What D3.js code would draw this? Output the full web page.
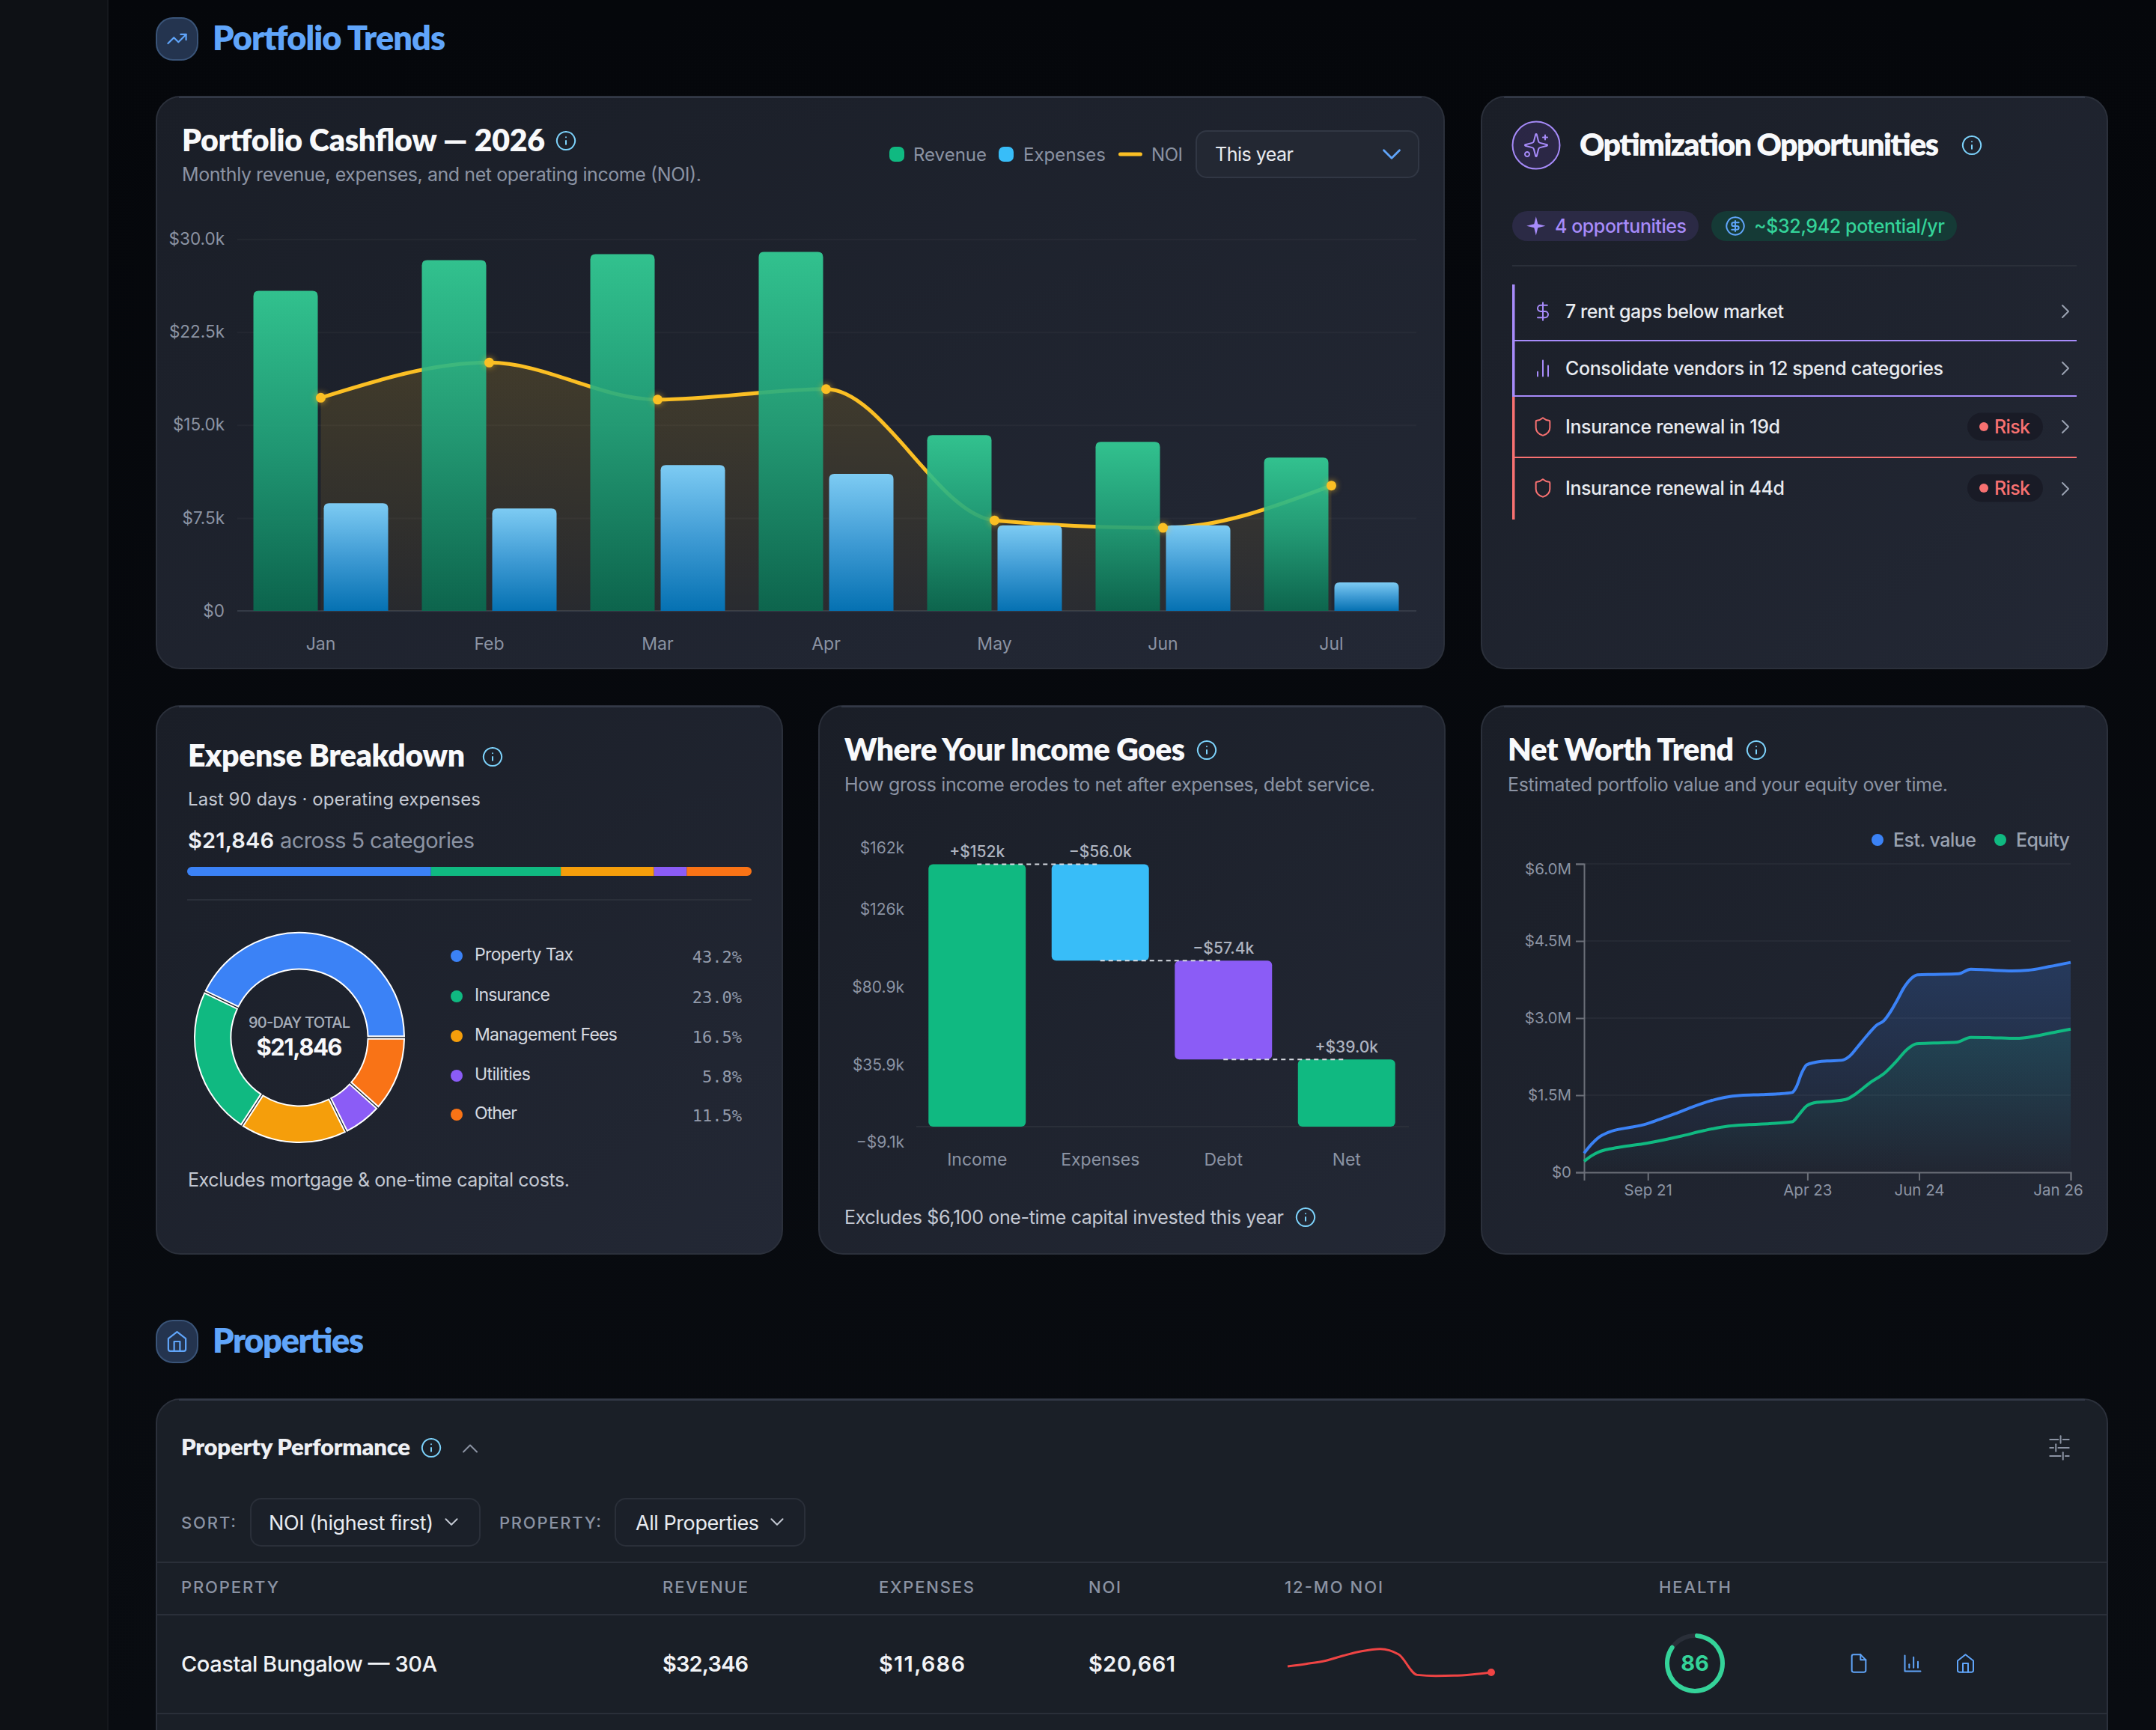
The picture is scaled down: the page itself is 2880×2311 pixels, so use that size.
<!DOCTYPE html>
<html>
<head>
<meta charset="utf-8">
<title>Portfolio dashboard</title>
<script src="https://cdn.jsdelivr.net/npm/d3@7"></script>
<style>
  html, body { margin: 0; padding: 0; background: #05070b; overflow: hidden; }
  svg { display: block; }
  text { font-family: Inter, sans-serif; }
  .head { font-family: Lato, sans-serif; font-weight: 800; }
</style>
</head>
<body>
<div id="page"></div>
<script>
// Cashflow chart
const months = ['Jan', 'Feb', 'Mar', 'Apr', 'May', 'Jun', 'Jul'];
const revenue = [25830, 28310, 28790, 28970, 14180, 13640, 12370];
const expenses = [8690, 8270, 11770, 11050, 6910, 6910, 2290];
const noi = [17200, 20040, 17050, 17900, 7300, 6700, 10110];
const cashTicks = [0, 7500, 15000, 22500, 30000];
const cashTickLabels = ['$0', '$7.5k', '$15.0k', '$22.5k', '$30.0k'];

// Expense breakdown
const expenseNames = ['Property Tax', 'Insurance', 'Management Fees', 'Utilities', 'Other'];
const expenseShares = [43.2, 23.0, 16.5, 5.8, 11.5];
const expenseColors = ['#3b82f6', '#10b981', '#f59e0b', '#8b5cf6', '#f97316'];

// Waterfall
const flowNames = ['Income', 'Expenses', 'Debt', 'Net'];
const flowStart = [0, 152.4, 96.4, 0];
const flowEnd = [152.4, 96.4, 39.0, 39.0];
const flowLabels = ['+$152k', '\u2212$56.0k', '\u2212$57.4k', '+$39.0k'];
const flowColors = ['#10b981', '#38bdf8', '#8b5cf6', '#10b981'];
const flowTicks = [-9.1, 35.9, 80.9, 126, 162];
const flowTickLabels = ['\u2212$9.1k', '$35.9k', '$80.9k', '$126k', '$162k'];

// Net worth, sampled on the chart's irregular date index
const estIndex = [0, .87, 1.9, 2.93, 4.22, 5.76, 7.82, 9.37, 11.43, 13.48, 15.8, 17.6, 19.66, 22.23, 24.29, 26.09, 26.6, 27.28, 27.9, 28.92, 30.47, 32.27, 33.3, 34.33, 35.62, 36.64, 37.57, 38.45, 39.22, 40.25, 41.02, 41.8, 43.85, 46.94, 48.48, 50.54, 53.63, 55.69, 58.26, 61];
const estValue = [.37, .536, .687, .77, .832, .873, .942, 1.024, 1.141, 1.265, 1.388, 1.457, 1.498, 1.512, 1.526, 1.553, 1.656, 1.931, 2.089, 2.137, 2.165, 2.179, 2.261, 2.447, 2.687, 2.859, 2.948, 3.134, 3.34, 3.629, 3.773, 3.842, 3.849, 3.863, 3.952, 3.938, 3.918, 3.931, 4.0, 4.083];
const equityIndex = [0, .87, 1.9, 3.19, 4.73, 7.82, 9.88, 12.46, 15.03, 18.12, 20.69, 23.26, 26.09, 26.87, 27.9, 29.18, 30.98, 32.78, 34.07, 35.87, 37.67, 39.22, 40.5, 41.69, 43.85, 46.68, 48.48, 51.05, 54.14, 56.72, 59.29, 61];
const equityValue = [.213, .316, .399, .454, .495, .564, .625, .715, .811, .9, .928, .948, .983, 1.107, 1.292, 1.361, 1.381, 1.416, 1.526, 1.746, 1.931, 2.172, 2.392, 2.502, 2.516, 2.529, 2.625, 2.619, 2.605, 2.653, 2.735, 2.784];
const worthTicks = [0, 1.5, 3, 4.5, 6];
const worthTickLabels = ['$0', '$1.5M', '$3.0M', '$4.5M', '$6.0M'];
const dateTickIndex = [8, 28, 42, 61];
const dateTickLabels = ['Sep 21', 'Apr 23', 'Jun 24', 'Jan 26'];

// Property row
const sparkNoi = [4.7, 5.7, 6.9, 9.0, 10.8, 11.7, 9.5, 1.3, 0.9, 1.0, 1.5, 2.3];
const healthScore = 86;

const C = { muted: '#8b93a3', soft: '#c3c8d2', white: '#f8f9fb', info: '#7dd3fc', blue: '#60a5fa', violet: '#a78bfa', red: '#f87171', mint: '#34d399' };

const ICONS = {
  trend: ['M22 7 13.5 15.5 8.5 10.5 2 17', 'M16 7h6v6'],
  home: ['m3 9 9-7 9 7v11a2 2 0 0 1-2 2H5a2 2 0 0 1-2-2z', 'M9 22V12h6v10'],
  sparkles: ['M9.937 15.5A2 2 0 0 0 8.5 14.063l-6.135-1.582a.5.5 0 0 1 0-.962L8.5 9.936A2 2 0 0 0 9.937 8.5l1.582-6.135a.5.5 0 0 1 .963 0L14.063 8.5A2 2 0 0 0 15.5 9.937l6.135 1.581a.5.5 0 0 1 0 .964L15.5 14.063a2 2 0 0 0-1.437 1.437l-1.582 6.135a.5.5 0 0 1-.963 0z', 'M20 3v4', 'M22 5h-4', 'M4 18a2 2 0 1 0 .01 0'],
  dollar: ['M12 2v20', 'M17 5H9.5a3.5 3.5 0 0 0 0 7h5a3.5 3.5 0 0 1 0 7H6'],
  bars: ['M6 21v-5', 'M12 21V3', 'M18 21V9'],
  shield: ['M20 13c0 5-3.5 7.5-7.66 8.95a1 1 0 0 1-.67-.01C7.5 20.5 4 18 4 13V6a1 1 0 0 1 1-1c2 0 4.5-1.2 6.24-2.72a1.17 1.17 0 0 1 1.52 0C14.51 3.81 17 5 19 5a1 1 0 0 1 1 1z'],
  right: ['m9 18 6-6-6-6'],
  down: ['m6 9 6 6 6-6'],
  up: ['m18 15-6-6-6 6'],
  info: ['M12 2a10 10 0 1 0 .01 0', 'M12 16v-4', 'M12 8h.01'],
  coin: ['M12 2a10 10 0 1 0 .01 0', 'M16 8h-6a2 2 0 1 0 0 4h4a2 2 0 1 1 0 4H8', 'M12 18V6'],
  file: ['M14 2H6a2 2 0 0 0-2 2v16a2 2 0 0 0 2 2h12a2 2 0 0 0 2-2V8z', 'M14 2v6h6'],
  axisBars: ['M3 3v18h18', 'M8 17v-4', 'M13 17V5', 'M18 17v-7'],
  sliders: ['M4 5h7', 'M15 5h5', 'M13 2v6', 'M4 12h3', 'M11 12h9', 'M9 9v6', 'M4 19h9', 'M17 19h3', 'M15 16v6']
};

const svg = d3.select('#page').append('svg').attr('width', 2880).attr('height', 2311);
const defs = svg.append('defs');

function addGradient(id, stops, x2 = 0, y2 = 1) {
  const g = defs.append('linearGradient').attr('id', id)
    .attr('x1', 0).attr('y1', 0).attr('x2', x2).attr('y2', y2);
  stops.forEach(s => g.append('stop').attr('offset', s[0]).attr('stop-color', s[1]).attr('stop-opacity', s[2] === undefined ? 1 : s[2]));
}
addGradient('pageBg', [[0, '#05070b'], [1, '#090c11']]);
addGradient('cardBg', [[0, '#1a1e27'], [1, '#232835']], 1, 1);
addGradient('revBar', [[0, '#34d399'], [.5, '#20a37a'], [1, '#0a6b50']]);
addGradient('expBar', [[0, '#7dcbf3'], [.5, '#3f9bd4'], [1, '#0571b2']]);
addGradient('noiArea', [[0, '#fbbf24', .16], [1, '#fbbf24', .04]]);
addGradient('estArea', [[0, '#3b82f6', .22], [1, '#3b82f6', .0]]);
addGradient('eqArea', [[0, '#10b981', .13], [1, '#10b981', .0]]);

// Text helper. w stretches the string to the width seen in the picture.
function label(str, x, y, o = {}) {
  const t = svg.append('text').attr('x', x).attr('y', y).text(str)
    .attr('font-size', o.size || 24)
    .attr('fill', o.color || C.muted)
    .attr('font-weight', o.weight || 400)
    .attr('text-anchor', o.anchor || 'start')
    .attr('dominant-baseline', o.base || 'central');
  if (o.head) t.attr('class', 'head');
  if (o.font) t.style('font-family', o.font);
  if (o.w) t.attr('textLength', o.w).attr('lengthAdjust', 'spacing');
  return t;
}

function icon(name, cx, cy, size, color, sw = 2, fill = 'none') {
  const k = size / 24;
  const g = svg.append('g').attr('transform', `translate(${cx - size / 2},${cy - size / 2}) scale(${k})`)
    .attr('fill', fill).attr('stroke', color).attr('stroke-width', sw / k)
    .attr('stroke-linecap', 'round').attr('stroke-linejoin', 'round');
  ICONS[name].forEach(d => g.append('path').attr('d', d));
}

function card(x, y, w, h, fill = 'url(#cardBg)') {
  svg.append('rect').attr('x', x).attr('y', y).attr('width', w).attr('height', h).attr('rx', 32)
    .attr('fill', fill).attr('stroke', '#2b303b').attr('stroke-width', 2);
  svg.append('path').attr('d', `M${x + 30} ${y + 1}H${x + w - 30}`).attr('stroke', '#333947').attr('stroke-width', 2);
}

function rule(x1, x2, y, color = '#2a2f39', width = 2) {
  svg.append('line').attr('x1', x1).attr('x2', x2).attr('y1', y).attr('y2', y)
    .attr('stroke', color).attr('stroke-width', width);
}

function topRounded(x, y, w, h, r) {
  r = Math.min(r, h);
  return `M${x} ${y + h}V${y + r}Q${x} ${y} ${x + r} ${y}H${x + w - r}Q${x + w} ${y} ${x + w} ${y + r}V${y + h}Z`;
}

function pill(x, y, w, h, fill) {
  svg.append('rect').attr('x', x).attr('y', y).attr('width', w).attr('height', h).attr('rx', h / 2).attr('fill', fill);
}

function sectionHead(iconName, title, y, w, iconSize) {
  svg.append('rect').attr('x', 209).attr('y', y - 28).attr('width', 55).attr('height', 56).attr('rx', 22)
    .attr('fill', '#24344f').attr('stroke', '#3a5478').attr('stroke-width', 2);
  icon(iconName, 236.5, y, iconSize, C.blue, 2.2);
  label(title, 284, y + 15, { head: true, size: 45, color: C.blue, base: 'alphabetic', w });
}

// Page frame
svg.append('rect').attr('width', 2880).attr('height', 2311).attr('fill', 'url(#pageBg)');
svg.append('rect').attr('width', 144).attr('height', 2311).attr('fill', '#0e1115');
svg.append('rect').attr('x', 143).attr('width', 2).attr('height', 2311).attr('fill', '#15181d');

sectionHead('trend', 'Portfolio Trends', 52, 311, 29);
sectionHead('home', 'Properties', 1792, 202, 31);

drawCashflow();
drawOpportunities();
drawExpenses();
drawWaterfall();
drawNetWorth();
drawTable();

function styleAxis(g, color = C.muted, size = 24) {
  g.selectAll('text').attr('fill', color).attr('font-size', size).style('font-family', 'Inter, sans-serif');
}

function drawCashflow() {
  card(209, 129, 1720, 764);
  label('Portfolio Cashflow \u2014 2026', 243, 202, { head: true, size: 41, color: C.white, base: 'alphabetic', w: 485 });
  icon('info', 756, 188, 29, C.info);
  label('Monthly revenue, expenses, and net operating income (NOI).', 243, 233, { size: 25, w: 694 });

  const x = d3.scaleBand().domain(months).range([316, 1891]).paddingInner(0.2).paddingOuter(0.1);
  const sub = d3.scaleBand().domain(['rev', 'exp']).range([0, x.bandwidth()]).paddingInner(8 / 94);
  const y = d3.scaleLinear().domain([0, 30000]).range([816, 319.5]);
  const mid = m => x(m) + x.bandwidth() / 2;

  svg.append('g').attr('transform', 'translate(317,0)')
    .call(d3.axisLeft(y).tickValues(cashTicks).tickSize(-1575).tickPadding(17).tickFormat((d, i) => cashTickLabels[i]))
    .call(g => g.select('.domain').remove())
    .call(g => g.selectAll('line').attr('stroke', '#fff').attr('stroke-opacity', .03).attr('stroke-width', 2))
    .call(g => styleAxis(g, C.muted, 22.5));
  rule(317, 1892, 816, '#343a46');
  svg.append('g').attr('transform', 'translate(0,816)')
    .call(d3.axisBottom(x).tickSize(0).tickPadding(36))
    .call(g => g.select('.domain').remove())
    .call(g => styleAxis(g, C.muted, 23));

  const area = d3.area().x((d, i) => mid(months[i])).y0(y(0)).y1(d => y(d)).curve(d3.curveMonotoneX);
  const line = d3.line().x((d, i) => mid(months[i])).y(d => y(d)).curve(d3.curveMonotoneX);
  svg.append('path').datum(noi).attr('d', area).attr('fill', 'url(#noiArea)');
  svg.append('path').datum(noi).attr('d', line).attr('fill', 'none').attr('stroke', '#fbbf24').attr('stroke-width', 5);

  svg.append('g').selectAll('path').data(revenue).join('path')
    .attr('d', (d, i) => topRounded(x(months[i]) + sub('rev'), y(d), sub.bandwidth(), y(0) - y(d), 7))
    .attr('fill', 'url(#revBar)').attr('opacity', .9);
  svg.append('g').selectAll('path').data(expenses).join('path')
    .attr('d', (d, i) => topRounded(x(months[i]) + sub('exp'), y(d), sub.bandwidth(), y(0) - y(d), 7))
    .attr('fill', 'url(#expBar)');

  svg.append('g').selectAll('circle').data(noi).join('circle')
    .attr('cx', (d, i) => mid(months[i])).attr('cy', d => y(d)).attr('r', 6.5)
    .attr('fill', '#fbbf24').style('filter', 'drop-shadow(0 0 4px #fbbf24aa)');

  // legend and range select
  svg.append('rect').attr('x', 1188).attr('y', 196).attr('width', 20).attr('height', 20).attr('rx', 7).attr('fill', '#10b981');
  label('Revenue', 1220, 206, { w: 98 });
  svg.append('rect').attr('x', 1334).attr('y', 196).attr('width', 20).attr('height', 20).attr('rx', 7).attr('fill', '#38bdf8');
  label('Expenses', 1367, 206, { w: 110 });
  svg.append('rect').attr('x', 1494).attr('y', 203.5).attr('width', 32).attr('height', 5).attr('rx', 2.5).attr('fill', '#fbbf24');
  label('NOI', 1538, 206, { w: 42 });
  svg.append('rect').attr('x', 1598).attr('y', 175).attr('width', 297).attr('height', 62).attr('rx', 14)
    .attr('fill', '#232833').attr('stroke', '#313744').attr('stroke-width', 2);
  label('This year', 1623, 206, { size: 25, color: '#e8ebf0', w: 105 });
  icon('down', 1859, 206, 42, C.blue, 2.8);
}

function drawOpportunities() {
  card(1979, 129, 836, 764);
  svg.append('ellipse').attr('cx', 2052).attr('cy', 194).attr('rx', 31.5).attr('ry', 31.5)
    .attr('fill', '#8b5cf6').attr('fill-opacity', .14).attr('stroke', C.violet).attr('stroke-width', 2);
  icon('sparkles', 2052, 194, 36, C.violet, 2);
  label('Optimization Opportunities', 2110, 208, { head: true, size: 41, color: C.white, base: 'alphabetic', w: 480 });
  icon('info', 2634, 194, 29, C.info);

  pill(2020, 282, 249, 40, '#2b2a45');
  svg.append('path').attr('transform', 'translate(2038,288) scale(1.15)')
    .attr('d', 'M12 1 l2.2 8.8 L23 12 l-8.8 2.2 L12 23 l-2.2-8.8 L1 12 l8.8-2.2z').attr('fill', C.violet);
  label('4 opportunities', 2077, 302, { size: 25, weight: 500, color: C.violet, w: 176 });
  pill(2286, 282, 328, 40, '#153a36');
  icon('coin', 2318, 302, 28, C.blue, 2);
  label('~$32,942 potential/yr', 2343, 302, { size: 25, weight: 500, color: C.mint, w: 255 });
  rule(2020, 2774, 355);

  // left bars and row rules
  svg.append('rect').attr('x', 2020).attr('y', 380).attr('width', 3.5).attr('height', 150).attr('fill', C.violet);
  svg.append('rect').attr('x', 2020).attr('y', 530).attr('width', 3.5).attr('height', 164).attr('fill', C.red);
  rule(2023, 2774, 455, C.violet);
  rule(2023, 2774, 529, C.violet);
  rule(2023, 2774, 611, C.red);

  const rowY = [416, 492, 570, 652];
  const rowText = ['7 rent gaps below market', 'Consolidate vendors in 12 spend categories', 'Insurance renewal in 19d', 'Insurance renewal in 44d'];
  const rowWidth = [292, 505, 287, 293];
  const rowIcon = ['dollar', 'bars', 'shield', 'shield'];
  const rowColor = [C.violet, C.violet, C.red, C.red];
  rowY.forEach((y, i) => {
    icon(rowIcon[i], 2061, y, 28, rowColor[i], 2);
    label(rowText[i], 2091, y, { size: 25, weight: 500, color: '#e8ebf0', w: rowWidth[i] });
    icon('right', 2759, y + (i === 3 ? 1 : 0), 32, '#9aa2b1', 2);
    if (i > 1) {
      pill(2628, y - 18.5, 101, 37, '#191b26');
      svg.append('circle').attr('cx', 2650).attr('cy', y).attr('r', 6).attr('fill', C.red);
      label('Risk', 2664, y, { size: 25, weight: 500, color: C.red, w: 48 });
    }
  });
}

function drawExpenses() {
  card(209, 943, 836, 732);
  label('Expense Breakdown', 251, 1024, { head: true, size: 41, color: C.white, base: 'alphabetic', w: 370 });
  icon('info', 658, 1011, 29, C.info);
  label('Last 90 days \u00b7 operating expenses', 251, 1067, { size: 24, color: C.soft, w: 391 });
  label('$21,846', 251, 1122, { size: 29, weight: 600, color: '#eef0f4', w: 115 });
  label('across 5 categories', 374, 1122, { size: 29, w: 260 });

  // stacked strip
  const strip = d3.scaleLinear().domain([0, d3.sum(expenseShares)]).range([250, 1004]);
  const cum = d3.cumsum(expenseShares);
  defs.append('clipPath').attr('id', 'stripClip').append('rect')
    .attr('x', 250).attr('y', 1158).attr('width', 754).attr('height', 12).attr('rx', 6);
  svg.append('g').attr('clip-path', 'url(#stripClip)').selectAll('rect').data(expenseShares).join('rect')
    .attr('x', (d, i) => strip(cum[i] - d)).attr('y', 1158)
    .attr('width', d => strip(d) - strip(0)).attr('height', 12)
    .attr('fill', (d, i) => expenseColors[i]);
  rule(250, 1004, 1202);

  // donut runs counter-clockwise from 3 o'clock
  const pie = d3.pie().sort(null).startAngle(Math.PI / 2).endAngle(Math.PI / 2 - 2 * Math.PI).padAngle(0.02);
  const arc = d3.arc().innerRadius(91.5).outerRadius(140);
  svg.append('g').attr('transform', 'translate(400,1386)').selectAll('path').data(pie(expenseShares)).join('path')
    .attr('d', arc).attr('fill', (d, i) => expenseColors[i]).attr('stroke', '#ffffff').attr('stroke-width', 2);
  label('90-DAY TOTAL', 400, 1366, { size: 20, weight: 500, color: '#a8afbb', anchor: 'middle', w: 136 });
  label('$21,846', 400, 1398, { size: 31, weight: 700, color: C.white, anchor: 'middle', w: 115 });

  const legendY = [1277, 1331, 1384, 1437, 1489];
  const nameWidth = [132, 101, 191, 75, 57];
  expenseNames.forEach((name, i) => {
    svg.append('circle').attr('cx', 610).attr('cy', legendY[i]).attr('r', 8).attr('fill', expenseColors[i]);
    label(name, 634, legendY[i] - 2, { size: 23, color: '#d5d9e0', w: nameWidth[i] });
    label(expenseShares[i].toFixed(1) + '%', 991, legendY[i] + 1, { size: 22, color: '#939bab', anchor: 'end', font: '"DejaVu Sans Mono", monospace' });
  });
  label('Excludes mortgage & one-time capital costs.', 251, 1576, { size: 25, color: C.soft, w: 510 });
}

function drawWaterfall() {
  card(1094, 943, 836, 732);
  label('Where Your Income Goes', 1128, 1016, { head: true, size: 41, color: C.white, base: 'alphabetic', w: 455 });
  icon('info', 1612, 1002, 29, C.info);
  label('How gross income erodes to net after expenses, debt service.', 1128, 1048, { size: 25, w: 709 });

  const x = d3.scaleBand().domain(flowNames).range([1223, 1881]).paddingInner(0.21).paddingOuter(0.105);
  const y = d3.scaleLinear().domain([0, 162]).range([1505, 1132.4]);

  svg.append('g').attr('transform', 'translate(1208,0)')
    .call(d3.axisLeft(y).tickValues(flowTicks).tickSize(0).tickPadding(0).tickFormat((d, i) => flowTickLabels[i]))
    .call(g => g.select('.domain').remove())
    .call(g => styleAxis(g, C.muted, 21));
  rule(1224, 1882, y(0));

  svg.append('g').selectAll('rect').data(flowNames).join('rect')
    .attr('x', d => x(d)).attr('width', x.bandwidth())
    .attr('y', (d, i) => y(Math.max(flowStart[i], flowEnd[i])))
    .attr('height', (d, i) => Math.abs(y(flowStart[i]) - y(flowEnd[i])))
    .attr('rx', 6).attr('fill', (d, i) => flowColors[i]);

  // dashed links between neighbouring steps
  const mid = n => x(n) + x.bandwidth() / 2;
  svg.append('g').selectAll('line').data(flowNames.slice(1)).join('line')
    .attr('x1', (d, i) => mid(flowNames[i])).attr('x2', d => mid(d))
    .attr('y1', (d, i) => y(flowEnd[i])).attr('y2', (d, i) => y(flowEnd[i]))
    .attr('stroke', '#d7dbe2').attr('stroke-width', 2).attr('stroke-dasharray', '6 5');

  flowNames.forEach((n, i) => {
    const top = y(Math.max(flowStart[i], flowEnd[i]));
    label(flowLabels[i], mid(n), top - 17, { size: 21, weight: 500, color: '#aeb4c0', anchor: 'middle' });
  });
  svg.append('g').attr('transform', 'translate(0,1505)')
    .call(d3.axisBottom(x).tickSize(0).tickPadding(36))
    .call(g => g.select('.domain').remove())
    .call(g => styleAxis(g, C.muted, 23));

  label('Excludes $6,100 one-time capital invested this year', 1128, 1626, { size: 25, color: C.soft, w: 587 });
  icon('info', 1744, 1626, 29, C.info);
}

function drawNetWorth() {
  card(1979, 943, 836, 732);
  label('Net Worth Trend', 2014, 1016, { head: true, size: 41, color: C.white, base: 'alphabetic', w: 302 });
  icon('info', 2346, 1002, 29, C.info);
  label('Estimated portfolio value and your equity over time.', 2014, 1048, { size: 25, w: 588 });

  svg.append('circle').attr('cx', 2508).attr('cy', 1122).attr('r', 8).attr('fill', '#3b82f6');
  label('Est. value', 2529, 1122, { size: 25, weight: 500, color: '#9aa2b1', w: 111 });
  svg.append('circle').attr('cx', 2672).attr('cy', 1122).attr('r', 8).attr('fill', '#10b981');
  label('Equity', 2693, 1122, { size: 25, weight: 500, color: '#9aa2b1', w: 72 });

  const x = d3.scaleLinear().domain([0, 61]).range([2116, 2766]);
  const y = d3.scaleLinear().domain([0, 6]).range([1566, 1154]);

  const yAxis = svg.append('g').attr('transform', 'translate(2116,0)')
    .call(d3.axisLeft(y).tickValues(worthTicks).tickSize(11).tickPadding(6).tickFormat((d, i) => worthTickLabels[i]))
    .call(g => g.selectAll('line').attr('stroke', '#6b6f78').attr('stroke-width', 2))
    .call(g => g.select('.domain').attr('stroke', '#6b6f78').attr('stroke-width', 2))
    .call(g => styleAxis(g, C.muted, 20.5));
  yAxis.selectAll('text').filter((d, i) => i === 4).attr('dy', '0.66em');

  worthTicks.slice(1).forEach(t => rule(2116, 2766, y(t), '#ffffff0a'));

  const est = estIndex.map((d, i) => [d, estValue[i]]);
  const eq = equityIndex.map((d, i) => [d, equityValue[i]]);
  const area = d3.area().x(d => x(d[0])).y0(y(0)).y1(d => y(d[1])).curve(d3.curveMonotoneX);
  const line = d3.line().x(d => x(d[0])).y(d => y(d[1])).curve(d3.curveMonotoneX);
  svg.append('path').datum(est).attr('d', area).attr('fill', 'url(#estArea)');
  svg.append('path').datum(eq).attr('d', area).attr('fill', 'url(#eqArea)');
  svg.append('path').datum(est).attr('d', line).attr('fill', 'none').attr('stroke', '#3b82f6').attr('stroke-width', 4);
  svg.append('path').datum(eq).attr('d', line).attr('fill', 'none').attr('stroke', '#10b981').attr('stroke-width', 4);

  svg.append('g').attr('transform', 'translate(0,1566)')
    .call(d3.axisBottom(x).tickValues(dateTickIndex).tickSize(11).tickPadding(5).tickFormat((d, i) => dateTickLabels[i]))
    .call(g => g.selectAll('line').attr('stroke', '#6b6f78').attr('stroke-width', 2))
    .call(g => g.select('.domain').attr('stroke', '#6b6f78').attr('stroke-width', 2))
    .call(g => styleAxis(g, C.muted, 20.5))
    .call(g => g.selectAll('text').filter((d, i) => i === 3).attr('dx', '-17'));
}

function drawTable() {
  card(209, 1869, 2606, 520, '#1a1f27');
  label('Property Performance', 242, 1944, { head: true, size: 31, color: '#eef0f4', base: 'alphabetic', w: 306 });
  icon('info', 576, 1934, 29, C.info);
  icon('up', 628, 1935, 36, C.muted, 2);
  icon('sliders', 2751, 1934, 38, C.muted, 2);

  label('SORT:', 242, 2034, { size: 22, weight: 500, w: 73 });
  svg.append('rect').attr('x', 335).attr('y', 2002).attr('width', 306).attr('height', 63).attr('rx', 14)
    .attr('fill', '#1b2029').attr('stroke', '#2a2f39').attr('stroke-width', 2);
  label('NOI (highest first)', 359, 2034, { size: 27, color: '#e8ebf0', w: 220 });
  icon('down', 603, 2033, 30, '#c3c8d2', 2);
  label('PROPERTY:', 667, 2034, { size: 22, weight: 500, w: 136 });
  svg.append('rect').attr('x', 822).attr('y', 2002).attr('width', 253).attr('height', 63).attr('rx', 14)
    .attr('fill', '#1b2029').attr('stroke', '#2a2f39').attr('stroke-width', 2);
  label('All Properties', 849, 2034, { size: 27, color: '#e8ebf0', w: 165 });
  icon('down', 1038, 2033, 30, '#c3c8d2', 2);

  rule(209, 2815, 2087);
  rule(209, 2815, 2157);
  rule(209, 2815, 2289);

  const colX = [242, 885, 1174, 1454, 1716, 2216];
  const colNames = ['PROPERTY', 'REVENUE', 'EXPENSES', 'NOI', '12-MO NOI', 'HEALTH'];
  const colWidth = [130, 114, 127, 43, 131, 96];
  colNames.forEach((n, i) => label(n, colX[i], 2120, { size: 22, weight: 500, w: colWidth[i] }));

  const rowY = 2222;
  label('Coastal Bungalow \u2014 30A', 242, rowY, { size: 29, weight: 500, color: '#f1f3f6', w: 342 });
  label('$32,346', 885, rowY, { size: 29, weight: 600, color: '#f1f3f6', w: 115 });
  label('$11,686', 1174, rowY, { size: 29, weight: 600, color: '#f1f3f6', w: 115 });
  label('$20,661', 1454, rowY, { size: 29, weight: 600, color: '#f1f3f6', w: 116 });

  // 12 month NOI sparkline
  const sx = d3.scaleLinear().domain([0, 11]).range([1720, 1992]);
  const sy = d3.scaleLinear().domain([0, 12]).range([2241.7, 2201.7]);
  svg.append('path').datum(sparkNoi)
    .attr('d', d3.line().x((d, i) => sx(i)).y(d => sy(d)).curve(d3.curveMonotoneX))
    .attr('fill', 'none').attr('stroke', '#ef4444').attr('stroke-width', 3);
  svg.append('circle').attr('cx', sx(11)).attr('cy', sy(sparkNoi[11])).attr('r', 5).attr('fill', '#ef4444');

  // health ring
  const ring = svg.append('g').attr('transform', 'translate(2264,2222)');
  ring.append('circle').attr('r', 37).attr('fill', 'none').attr('stroke', '#2a2f39').attr('stroke-width', 6);
  ring.append('path').attr('fill', C.mint)
    .attr('d', d3.arc().innerRadius(34).outerRadius(40).cornerRadius(3).startAngle(0).endAngle(2 * Math.PI * healthScore / 100)());
  label(String(healthScore), 2264, 2221, { size: 29, weight: 700, color: C.mint, anchor: 'middle' });

  icon('file', 2483, rowY, 28, C.blue, 2);
  icon('axisBars', 2555, rowY, 28, C.blue, 2);
  icon('home', 2625.5, rowY, 28, C.blue, 2);
}
</script>
</body>
</html>
